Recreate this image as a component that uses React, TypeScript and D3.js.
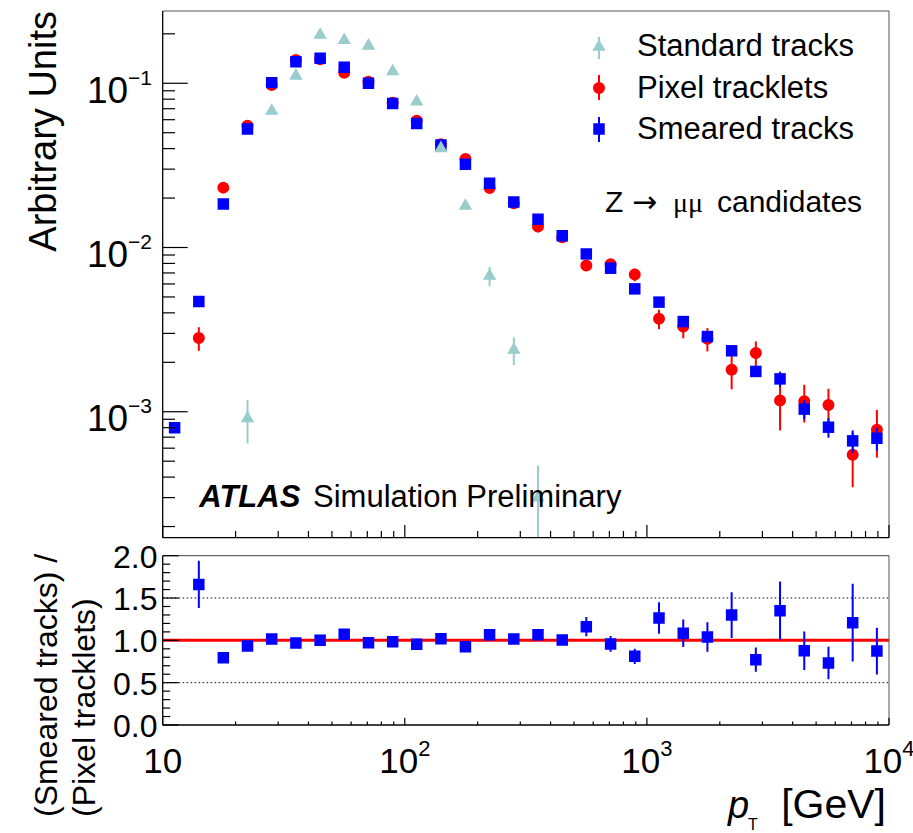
import React from 'react';
import * as d3 from 'd3';

// ---------- data ----------
const binCenters = [11.2, 14.1, 17.8, 22.4, 28.2, 35.5, 44.7, 56.2, 70.8, 89.1, 112, 141, 178, 224, 282, 355, 447, 562, 708, 891, 1122, 1413, 1778, 2239, 2818, 3548, 4467, 5623, 7079, 8913];

const standardTracks: (number | null)[] = [null, null, null, 0.00091, 0.0678, 0.111, 0.197, 0.183, 0.169, 0.118, 0.0773, 0.0402, 0.0179, 0.00671, 0.00238, 0.00030, null, null, null, null, null, null, null, null, null, null, null, null, null, null];
const standardErr = [0, 0, 0, 0.00027, 0.0012, 0.0015, 0.002, 0.002, 0.0018, 0.0015, 0.0012, 0.0008, 0.0006, 0.0009, 0.00046, 0.00017, 0, 0, 0, 0, 0, 0, 0, 0, 0, 0, 0, 0, 0, 0];

const pixelTracklets: (number | null)[] = [null, 0.00281, 0.02315, 0.0552, 0.0977, 0.1387, 0.140, 0.116, 0.102, 0.0762, 0.0592, 0.0425, 0.0346, 0.0230, 0.0186, 0.0134, 0.01156, 0.00776, 0.00791, 0.00684, 0.00368, 0.0033, 0.00278, 0.0018, 0.00228, 0.00117, 0.00116, 0.0011, 0.000547, 0.000776];
const pixelErr = [0, 0.00046, 0.0004, 0.0006, 0.0008, 0.0009, 0.0009, 0.0008, 0.0008, 0.0007, 0.0006, 0.0005, 0.0005, 0.0004, 0.0004, 0.0004, 0.0004, 0.0004, 0.0004, 0.0006, 0.0005, 0.0005, 0.00045, 0.00043, 0.0004, 0.0004, 0.0003, 0.00028, 0.0002, 0.00025];

const smearedTracks: (number | null)[] = [0.0008, 0.00469, 0.01842, 0.0527, 0.1009, 0.1353, 0.142, 0.1252, 0.100, 0.0752, 0.0568, 0.0421, 0.0321, 0.0246, 0.01895, 0.01487, 0.01181, 0.00914, 0.00748, 0.0056, 0.00465, 0.00354, 0.00287, 0.00235, 0.00176, 0.001585, 0.001037, 0.000805, 0.000665, 0.00069];
const smearedErr = [0.00003, 0.00015, 0.0003, 0.0005, 0.0007, 0.0008, 0.0008, 0.0007, 0.0006, 0.0005, 0.0004, 0.0003, 0.0003, 0.0003, 0.0003, 0.0002, 0.0002, 0.0002, 0.0002, 0.00015, 0.00013, 0.00012, 0.00015, 0.00014, 0.00013, 0.00017, 0.00014, 0.00011, 0.000105, 0.00011];

const ratioValues: (number | null)[] = [null, 1.661, 0.795, 0.933, 1.016, 0.969, 1.0, 1.071, 0.972, 0.984, 0.953, 1.02, 0.925, 1.067, 1.016, 1.067, 1.004, 1.161, 0.957, 0.811, 1.264, 1.083, 1.039, 1.299, 0.772, 1.35, 0.878, 0.732, 1.209, 0.874];
const ratioErr = [0, 0.278, 0.025, 0.02, 0.02, 0.02, 0.02, 0.02, 0.02, 0.02, 0.02, 0.02, 0.02, 0.02, 0.02, 0.03, 0.03, 0.114, 0.093, 0.089, 0.185, 0.163, 0.175, 0.27, 0.144, 0.346, 0.228, 0.193, 0.459, 0.276];

const topYTicks = [1e-3, 1e-2, 1e-1];
const topYExponents = ['−3', '−2', '−1'];
const xTickValues = [10, 100, 1000, 10000];
const xTickBases = ['10', '10', '10', '10'];
const xTickExponents = ['', '2', '3', '4'];
const ratioTicks = [0, 0.5, 1, 1.5, 2];
const ratioTickLabels = ['0.0', '0.5', '1.0', '1.5', '2.0'];
const legendLabels = ['Standard tracks', 'Pixel tracklets', 'Smeared tracks'];

// ---------- layout ----------
const W = 913, H = 833;
const L = 162.7, R = 889;
const T1 = 11, B1 = 537.7;
const T2 = 555.7, B2 = 725;

const TEAL = '#99cccc';
const RED = '#ff0000';
const BLUE = '#0000ff';
const FONT = '"Liberation Sans", Arial, Helvetica, sans-serif';

const x = d3.scaleLog().domain([10, 1e4]).range([L, R]);
const yTop = d3.scaleLog().domain([Math.pow(10, -3.7669), Math.pow(10, -0.56)]).range([B1, T1]);
const yBot = d3.scaleLinear().domain([0, 2]).range([B2, T2]);

const triPath = d3.symbol(d3.symbolTriangle, 78)()!;
const sqPath = d3.symbol(d3.symbolSquare, 132)()!;
const circPath = d3.symbol(d3.symbolCircle, 113)()!;

const isMajorLog = (v: number) => Math.abs(Math.log10(v) - Math.round(Math.log10(v))) < 1e-6;

function ErrBars({ vals, errs, color, yS, floor }: any) {
  return (
    <g stroke={color} strokeWidth={2}>
      {vals.map((v: number | null, i: number) => {
        if (v == null || !errs[i]) return null;
        const lo = Math.max(v - errs[i], floor);
        return <line key={i} x1={x(binCenters[i])} x2={x(binCenters[i])} y1={yS(v + errs[i])} y2={yS(lo)} />;
      })}
    </g>
  );
}

function Markers({ vals, path, color, yS }: any) {
  return (
    <g fill={color}>
      {vals.map((v: number | null, i: number) =>
        v == null ? null : <path key={i} d={path} transform={`translate(${x(binCenters[i])},${yS(v)})`} />
      )}
    </g>
  );
}

export default function App() {
  const xMinor = x.ticks();
  const yTopTicksAll = yTop.ticks().filter((v) => v >= yTop.domain()[0] && v <= yTop.domain()[1]);
  const yBotMinor = d3.range(0, 2.0001, 0.1);

  return (
    <svg width={W} height={H} style={{ position: 'absolute', left: 0, top: 0, background: '#fff' }} fontFamily={FONT}>
      <defs>
        <clipPath id="clipTop"><rect x={L} y={T1} width={R - L} height={B1 - T1} /></clipPath>
        <clipPath id="clipBot"><rect x={L} y={T2} width={R - L} height={B2 - T2} /></clipPath>
      </defs>
      <rect x={0} y={0} width={W} height={H} fill="#fff" />

      {/* ===== TOP PANEL ===== */}
      <g clipPath="url(#clipTop)">
        <ErrBars vals={pixelTracklets} errs={pixelErr} color={RED} yS={yTop} floor={1e-5} />
        <Markers vals={pixelTracklets} path={circPath} color={RED} yS={yTop} />
        <ErrBars vals={smearedTracks} errs={smearedErr} color={BLUE} yS={yTop} floor={1e-5} />
        <Markers vals={smearedTracks} path={sqPath} color={BLUE} yS={yTop} />
        <ErrBars vals={standardTracks} errs={standardErr} color={TEAL} yS={yTop} floor={1e-5} />
        <Markers vals={standardTracks} path={triPath} color={TEAL} yS={yTop} />
      </g>

      {/* frame */}
      <line x1={L} x2={R} y1={T1} y2={T1} stroke="#555" strokeWidth={1} />
      <line x1={R} x2={R} y1={T1} y2={B1} stroke="#555" strokeWidth={1} />
      <line x1={L} x2={L} y1={T1} y2={B1} stroke="#000" strokeWidth={1.3} />
      <line x1={L} x2={R} y1={B1} y2={B1} stroke="#000" strokeWidth={1.3} />

      {/* top y ticks */}
      <g stroke="#000" strokeWidth={1.2}>
        {yTopTicksAll.map((v, i) => (
          <line key={i} x1={L} x2={L + (isMajorLog(v) ? 25 : 12.3)} y1={yTop(v)} y2={yTop(v)} />
        ))}
      </g>
      {/* top x ticks */}
      <g stroke="#000" strokeWidth={1.2}>
        {xMinor.map((v, i) => (
          <line key={i} x1={x(v)} x2={x(v)} y1={B1} y2={B1 - (isMajorLog(v) ? 12.7 : 6.7)} />
        ))}
      </g>

      {/* top y labels */}
      {topYTicks.map((v, i) => (
        <text key={i} x={152} y={yTop(v) + 19.5} textAnchor="end" fill="#000">
          <tspan fontSize={37}>10</tspan>
          <tspan fontSize={21} dy={-18}>{topYExponents[i]}</tspan>
        </text>
      ))}

      {/* top y title */}
      <text transform={`translate(56,${T1}) rotate(-90)`} textAnchor="end" fontSize={38} fill="#000">Arbitrary Units</text>

      {/* legend */}
      <g>
        <line x1={599} x2={599} y1={37} y2={59} stroke={TEAL} strokeWidth={2} />
        <path d={triPath} transform="translate(599,47)" fill={TEAL} />
        <line x1={599} x2={599} y1={75} y2={100} stroke={RED} strokeWidth={2} />
        <path d={circPath} transform="translate(599,88)" fill={RED} />
        <line x1={599} x2={599} y1={117} y2={142} stroke={BLUE} strokeWidth={2} />
        <path d={sqPath} transform="translate(599,129)" fill={BLUE} />
        {legendLabels.map((t, i) => (
          <text key={i} x={637} y={[56, 98, 139][i]} fontSize={31} fill="#000">{t}</text>
        ))}
      </g>

      {/* Z -> mu mu */}
      <text y={211.7} fontSize={30} fill="#000">
        <tspan x={605}>Z</tspan>
        <tspan x={632} fontFamily='"DejaVu Sans", sans-serif' fontSize={30}>→</tspan>
        <tspan x={673} fontFamily='"Liberation Serif", "DejaVu Serif", serif' fontSize={28}>μμ</tspan>
        <tspan x={717}>candidates</tspan>
      </text>

      {/* ATLAS label */}
      <text x={199.3} y={507.3} fontSize={31} fill="#000">
        <tspan fontWeight="bold" fontStyle="italic">ATLAS</tspan>
        <tspan x={313}>Simulation Preliminary</tspan>
      </text>

      {/* ===== BOTTOM PANEL ===== */}
      <g stroke="#000" strokeWidth={1} strokeDasharray="1.5,2.5">
        {[0.5, 1.5].map((v, i) => (
          <line key={i} x1={L} x2={R} y1={yBot(v)} y2={yBot(v)} />
        ))}
      </g>
      <line x1={L} x2={R} y1={yBot(1)} y2={yBot(1)} stroke={RED} strokeWidth={3} />
      <g clipPath="url(#clipBot)">
        <ErrBars vals={ratioValues} errs={ratioErr} color={BLUE} yS={yBot} floor={-1} />
        <Markers vals={ratioValues} path={sqPath} color={BLUE} yS={yBot} />
      </g>

      <line x1={L} x2={R} y1={T2} y2={T2} stroke="#444" strokeWidth={1} />
      <line x1={R} x2={R} y1={T2} y2={B2} stroke="#555" strokeWidth={1} />
      <line x1={L} x2={L} y1={T2} y2={B2} stroke="#000" strokeWidth={1.3} />
      <line x1={L} x2={R} y1={B2} y2={B2} stroke="#000" strokeWidth={1.3} />

      {/* bottom y ticks */}
      <g stroke="#000" strokeWidth={1.2}>
        {yBotMinor.map((v, i) => {
          const major = Math.abs(v * 2 - Math.round(v * 2)) < 1e-6;
          return <line key={i} x1={L} x2={L + (major ? 16 : 7.5)} y1={yBot(v)} y2={yBot(v)} />;
        })}
      </g>
      {/* bottom x ticks */}
      <g stroke="#000" strokeWidth={1.2}>
        {xMinor.map((v, i) => (
          <line key={i} x1={x(v)} x2={x(v)} y1={B2} y2={B2 - (isMajorLog(v) ? 7.3 : 3.5)} />
        ))}
      </g>

      {/* bottom y labels */}
      {ratioTicks.map((v, i) => (
        <text key={i} x={157.5} y={yBot(v) + 12} textAnchor="end" fontSize={32} fill="#000">{ratioTickLabels[i]}</text>
      ))}

      {/* x labels */}
      {xTickValues.map((v, i) => (
        <text key={i} x={x(v)} y={773.3} textAnchor="middle" fill="#000">
          <tspan fontSize={35}>{xTickBases[i]}</tspan>
          {xTickExponents[i] ? <tspan fontSize={22} dy={-17}>{xTickExponents[i]}</tspan> : null}
        </text>
      ))}

      {/* bottom y title */}
      <g fontSize={32} fill="#000">
        <text transform={`translate(57.3,817) rotate(-90)`} textAnchor="start">(Smeared tracks) /</text>
        <text transform={`translate(95.3,817) rotate(-90)`} textAnchor="start">(Pixel tracklets)</text>
      </g>

      {/* x title */}
      <text x={728} y={818} fontSize={38} fontStyle="italic" fill="#000">p</text>
      <text x={748} y={830} fontSize={16} fill="#000">T</text>
      <text x={886} y={818} fontSize={41} textAnchor="end" fill="#000">[GeV]</text>
    </svg>
  );
}
